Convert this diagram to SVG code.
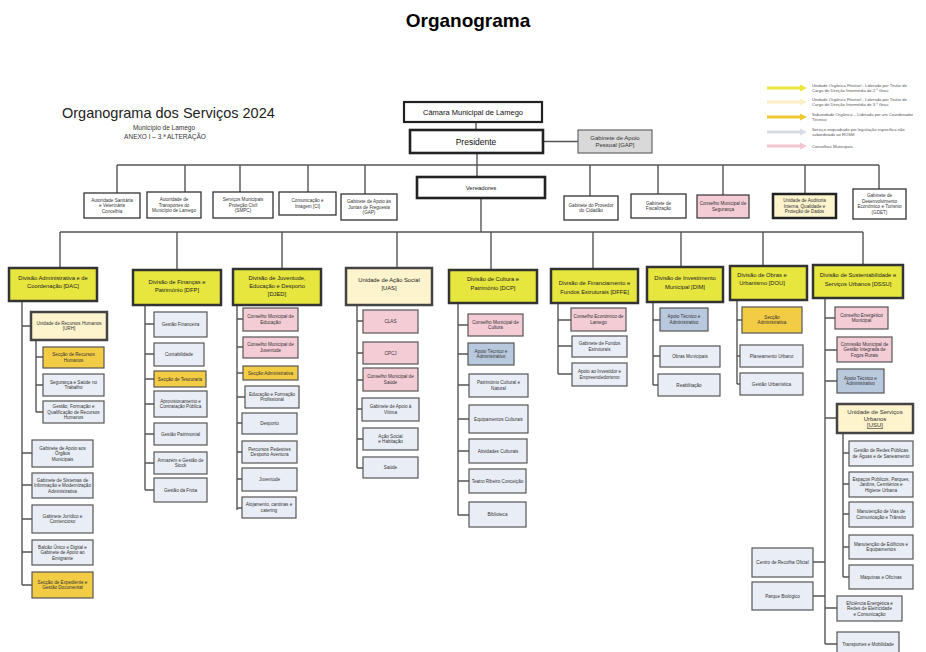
<svg xmlns="http://www.w3.org/2000/svg" xmlns:xlink="http://www.w3.org/1999/xlink" width="926" height="652" viewBox="0 0 926 652">
<style>
text{font-family:"Liberation Sans",Arial,sans-serif;fill:#333;text-anchor:middle}
.t{font-size:4.6px}
.h{font-size:5.8px;fill:#222}
.lg{font-size:4.2px;text-anchor:start;fill:#555}
.b{fill:#e9eef6;stroke:#555;stroke-width:1.2}
.pk{fill:#f4ccd6;stroke:#555;stroke-width:1.2}
.gd{fill:#f2cc44;stroke:#555;stroke-width:1.2}
.bl{fill:#b9c9dd;stroke:#555;stroke-width:1.2}
.w{fill:#fff;stroke:#333;stroke-width:1.3}
.dv{fill:#e6e63e;stroke:#333;stroke-width:2.5}
.un{fill:#fdf3cd;stroke:#444;stroke-width:2.5}
.tp{fill:#fff;stroke:#222;stroke-width:2.2}
.c path{fill:none;stroke:#555;stroke-width:1.4}
</style>
<defs>
<path id="arr" d="M0,-1.4 H33 V-3.4 L40,0 L33,3.4 V1.4 H0 Z"/>
</defs>

<text x="468" y="27" style="font-size:19px;font-weight:bold;fill:#000">Organograma</text>

<g id="heading">
<text x="62" y="118" style="font-size:14.5px;text-anchor:start;fill:#222">Organograma dos Serviços 2024</text>
<text x="164" y="130" style="font-size:6.5px">Município de Lamego</text>
<text x="165" y="139" style="font-size:6.5px">ANEXO I – 3.ª ALTERAÇÃO</text>
</g>

<g id="legend">
<use xlink:href="#arr" x="767" y="88" fill="#e8e83a"/>
<use xlink:href="#arr" x="767" y="102" fill="#fbefc6"/>
<use xlink:href="#arr" x="767" y="117" fill="#f0c830"/>
<use xlink:href="#arr" x="767" y="132" fill="#d8dde6"/>
<use xlink:href="#arr" x="767" y="146" fill="#f2c4cf"/>
<text class="lg" x="812" y="87"><tspan x="812">Unidade Orgânica Flexível - Liderada por Titular de</tspan><tspan x="812" dy="5">Cargo de Direção Intermédia de 2.º Grau</tspan></text>
<text class="lg" x="812" y="101"><tspan x="812">Unidade Orgânica Flexível - Liderada por Titular de</tspan><tspan x="812" dy="5">Cargo de Direção Intermédia de 3.º Grau</tspan></text>
<text class="lg" x="812" y="116"><tspan x="812">Subunidade Orgânica – Liderada por um Coordenador</tspan><tspan x="812" dy="5">Técnico</tspan></text>
<text class="lg" x="812" y="131"><tspan x="812">Serviço enquadrado por legislação específica não</tspan><tspan x="812" dy="5">subordinado ao ROSM</tspan></text>
<text class="lg" x="812" y="147.5">Conselhos Municipais</text>
</g>

<g id="connectors" class="c">
<path d="M476,122 V130 M543,141.5 H578 M477,153 V177 M481,198 V232"/>
<path d="M117,165 H879 M117,165 V193 M185,165 V192 M240,165 V192 M308,165 V192 M365,165 V194 M590,165 V196 M658,165 V194 M723,165 V195 M805,165 V194 M879,165 V189"/>
<path d="M60,232 H863 M60,232 V268 M177,232 V270 M282,232 V269 M397,232 V268 M491,232 V270 M593,232 V269 M681,232 V267 M763,232 V266 M863,232 V265"/>
<path d="M22,301 V585 M22,326 H31 M22,453 H32 M22,485 H32 M22,519 H32 M22,552 H32 M22,585 H32"/>
<path d="M36,340 V412 M36,357 H43 M36,385 H43 M36,412 H43"/>
<path d="M145,305 V490 M145,324 H154 M145,354 H154 M145,379 H154 M145,404 H154 M145,434 H154 M145,463 H154 M145,490 H154"/>
<path d="M237,305 V510 M237,319 H243 M237,347 H243 M237,373 H243 M237,397 H245 M237,423 H242 M237,452 H242 M237,479 H242 M237,508 H242"/>
<path d="M357,305 V468 M357,321 H363 M357,353 H363 M357,380 H363 M357,409 H362 M357,439 H363 M357,468 H363"/>
<path d="M458,303 V515 M458,325 H468 M458,354 H468 M458,385 H469 M458,419 H469 M458,451 H469 M458,481 H469 M458,515 H469"/>
<path d="M558,303 V374 M558,320 H571 M558,346 H572 M558,374 H572"/>
<path d="M653,302 V385 M653,320 H660 M653,356 H660 M653,385 H658"/>
<path d="M737,300 V384 M737,320 H742 M737,356 H740 M737,384 H740"/>
<path d="M825,298 V644 M825,318 H835 M825,350 H837 M825,381 H837 M825,418 H837 M825,608 H837 M825,644 H837 M825,562 H813 M825,596 H813"/>
<path d="M843,433 V577 M843,453 H849 M843,484 H849 M843,514 H849 M843,547 H849 M843,577 H849"/>
</g>

<g id="camara"><rect class="tp" x="404" y="102" width="138" height="20"/><text x="473" y="114.5" style="font-size:7.5px;fill:#111">Câmara Municipal de Lamego</text></g>
<g id="presidente"><rect class="tp" x="410" y="130" width="133" height="23" style="stroke-width:2.6"/><text x="476" y="144.5" style="font-size:8.5px;fill:#111">Presidente</text></g>
<g id="gap-pessoal"><rect x="578" y="130" width="74" height="23" style="fill:#d9d9d9;stroke:#666;stroke-width:1.2"/><text x="615" y="139.5" style="font-size:6px"><tspan x="615">Gabinete de Apoio</tspan><tspan x="615" dy="7">Pessoal [GAP]</tspan></text></g>
<g id="vereadores"><rect class="tp" x="417" y="177" width="128" height="21" style="stroke-width:2.6"/><text x="481" y="189.5" style="font-size:6px;fill:#222">Vereadores</text></g>

<g id="asvc"><rect class="w" x="84" y="193" width="56" height="25"/><text class="t" x="112" y="201.6"><tspan x="112">Autoridade Sanitária</tspan><tspan x="112" dy="5.5">e Veterinária</tspan><tspan x="112" dy="5.5">Concelhia</tspan></text></g>
<g id="atml"><rect class="w" x="147" y="192" width="54" height="26"/><text class="t" x="174" y="201.1"><tspan x="174">Autoridade de</tspan><tspan x="174" dy="5.5">Transportes do</tspan><tspan x="174" dy="5.5">Município de Lamego</tspan></text></g>
<g id="smpc"><rect class="w" x="213" y="192" width="60" height="26"/><text class="t" x="243" y="201.1"><tspan x="243">Serviços Municipais</tspan><tspan x="243" dy="5.5">Proteção Civil</tspan><tspan x="243" dy="5.5">(SMPC)</tspan></text></g>
<g id="ci"><rect class="w" x="279" y="192" width="57" height="23"/><text class="t" x="307.5" y="202.4"><tspan x="307.5">Comunicação e</tspan><tspan x="307.5" dy="5.5">Imagem [CI]</tspan></text></g>
<g id="gap-juntas"><rect class="w" x="341" y="194" width="56" height="26"/><text class="t" x="369" y="203.1"><tspan x="369">Gabinete de Apoio às</tspan><tspan x="369" dy="5.5">Juntas de Freguesia</tspan><tspan x="369" dy="5.5">(GAP)</tspan></text></g>
<g id="provedor"><rect class="w" x="564" y="196" width="54" height="24"/><text class="t" x="591" y="206.9"><tspan x="591">Gabinete do Provedor</tspan><tspan x="591" dy="5.5">do Cidadão</tspan></text></g>
<g id="fiscalizacao"><rect class="w" x="631" y="194" width="55" height="24"/><text class="t" x="658.5" y="204.9"><tspan x="658.5">Gabinete de</tspan><tspan x="658.5" dy="5.5">Fiscalização</tspan></text></g>
<g id="cms"><rect class="pk" x="697" y="195" width="52" height="23" style="stroke:#333"/><text class="t" x="723" y="205.4"><tspan x="723">Conselho Municipal de</tspan><tspan x="723" dy="5.5">Segurança</tspan></text></g>
<g id="auditoria"><rect class="un" x="773" y="194" width="63" height="24" style="stroke:#222"/><text class="t" x="804.5" y="202.1"><tspan x="804.5">Unidade de Auditoria</tspan><tspan x="804.5" dy="5.5">Interna, Qualidade e</tspan><tspan x="804.5" dy="5.5">Proteção de Dados</tspan></text></g>
<g id="gdet"><rect class="w" x="853" y="189" width="53" height="30"/><text class="t" x="879.5" y="197.4"><tspan x="879.5">Gabinete de</tspan><tspan x="879.5" dy="5.5">Desenvolvimento</tspan><tspan x="879.5" dy="5.5">Económico e Turismo</tspan><tspan x="879.5" dy="5.5">(GDET)</tspan></text></g>

<g id="dac"><rect class="dv" x="9" y="268" width="88" height="33"/><text class="h" x="53" y="280"><tspan x="53">Divisão Administrativa e de</tspan><tspan x="53" dy="8">Coordenação [DAC]</tspan></text></g>
<g id="dfp"><rect class="dv" x="133" y="270" width="88" height="35"/><text class="h" x="177" y="284"><tspan x="177">Divisão de Finanças e</tspan><tspan x="177" dy="8">Património [DFP]</tspan></text></g>
<g id="djed"><rect class="dv" x="233" y="269" width="88" height="36"/><text class="h" x="277" y="280"><tspan x="277">Divisão de Juventude,</tspan><tspan x="277" dy="8">Educação e Desporto</tspan><tspan x="277" dy="8">[DJED]</tspan></text></g>
<g id="uas"><rect class="un" x="346" y="268" width="86" height="37"/><text class="h" x="389" y="282"><tspan x="389">Unidade de Ação Social</tspan><tspan x="389" dy="8">[UAS]</tspan></text></g>
<g id="dcp"><rect class="dv" x="449" y="270" width="88" height="33"/><text class="h" x="493" y="281"><tspan x="493">Divisão de Cultura e</tspan><tspan x="493" dy="8.5">Património [DCP]</tspan></text></g>
<g id="dffe"><rect class="dv" x="551" y="269" width="87" height="34"/><text class="h" x="594.5" y="285"><tspan x="594.5">Divisão de Financiamento e</tspan><tspan x="594.5" dy="8.5">Fundos Estruturais   [DFFE]</tspan></text></g>
<g id="dim"><rect class="dv" x="647" y="267" width="76" height="35"/><text class="h" x="685" y="280"><tspan x="685">Divisão de Investimento</tspan><tspan x="685" dy="8.5">Municipal [DIM]</tspan></text></g>
<g id="dou"><rect class="dv" x="730" y="266" width="77" height="34"/><text class="h" x="762" y="277"><tspan x="762">Divisão de Obras e</tspan><tspan x="762" dy="8">Urbanismo [DOU]</tspan></text></g>
<g id="dssu"><rect class="dv" x="813" y="265" width="90" height="33"/><text class="h" x="858" y="277"><tspan x="858">Divisão de Sustentabilidade e</tspan><tspan x="858" dy="8.5">Serviços Urbanos [DSSU]</tspan></text></g>

<g id="urh"><rect class="un" x="31" y="312" width="76" height="28"/><text class="t" x="69" y="324.9"><tspan x="69">Unidade de Recursos Humanos</tspan><tspan x="69" dy="5.5">[URH]</tspan></text></g>
<g id="srh"><rect class="gd" x="43" y="347" width="61" height="21"/><text class="t" x="73.5" y="356.4"><tspan x="73.5">Secção de Recursos</tspan><tspan x="73.5" dy="5.5">Humanos</tspan></text></g>
<g id="sst"><rect class="b" x="43" y="374" width="61" height="22"/><text class="t" x="73.5" y="383.9"><tspan x="73.5">Segurança e Saúde no</tspan><tspan x="73.5" dy="5.5">Trabalho</tspan></text></g>
<g id="gfq"><rect class="b" x="43" y="401" width="61" height="22"/><text class="t" x="73.5" y="408.1"><tspan x="73.5">Gestão, Formação e</tspan><tspan x="73.5" dy="5.5">Qualificação de Recursos</tspan><tspan x="73.5" dy="5.5">Humanos</tspan></text></g>
<g id="gaom"><rect class="b" x="32" y="440" width="61" height="27"/><text class="t" x="62.5" y="449.6"><tspan x="62.5">Gabinete de Apoio aos</tspan><tspan x="62.5" dy="5.5">Órgãos</tspan><tspan x="62.5" dy="5.5">Municipais</tspan></text></g>
<g id="gsima"><rect class="b" x="32" y="473" width="61" height="25"/><text class="t" x="62.5" y="481.6"><tspan x="62.5">Gabinete de Sistemas de</tspan><tspan x="62.5" dy="5.5">Informação e Modernização</tspan><tspan x="62.5" dy="5.5">Administrativa</tspan></text></g>
<g id="gjc"><rect class="b" x="32" y="505" width="61" height="28"/><text class="t" x="62.5" y="517.9"><tspan x="62.5">Gabinete Jurídico e</tspan><tspan x="62.5" dy="5.5">Contencioso</tspan></text></g>
<g id="buge"><rect class="b" x="32" y="540" width="61" height="25"/><text class="t" x="62.5" y="548.6"><tspan x="62.5">Balcão Único e Digital e</tspan><tspan x="62.5" dy="5.5">Gabinete de Apoio ao</tspan><tspan x="62.5" dy="5.5">Emigrante</tspan></text></g>
<g id="segd"><rect class="gd" x="32" y="572" width="61" height="26"/><text class="t" x="62.5" y="583.9"><tspan x="62.5">Secção de Expediente  e</tspan><tspan x="62.5" dy="5.5">Gestão Documental</tspan></text></g>

<g id="gf"><rect class="b" x="154" y="312" width="53" height="25"/><text class="t" x="180.5" y="326.1">Gestão Financeira</text></g>
<g id="cont"><rect class="b" x="154" y="343" width="50" height="23"/><text class="t" x="179" y="356.1">Contabilidade</text></g>
<g id="stes"><rect class="gd" x="154" y="371" width="52" height="16"/><text class="t" x="180" y="380.6">Secção de Tesouraria</text></g>
<g id="acp"><rect class="b" x="154" y="391" width="53" height="26"/><text class="t" x="180.5" y="402.9"><tspan x="180.5">Aprovisionamento e</tspan><tspan x="180.5" dy="5.5">Contratação Pública</tspan></text></g>
<g id="gp"><rect class="b" x="154" y="423" width="53" height="22"/><text class="t" x="180.5" y="435.6">Gestão Patrimonial</text></g>
<g id="ags"><rect class="b" x="154" y="452" width="53" height="22"/><text class="t" x="180.5" y="461.9"><tspan x="180.5">Armazém e Gestão de</tspan><tspan x="180.5" dy="5.5">Stock</tspan></text></g>
<g id="gfr"><rect class="b" x="154" y="478" width="53" height="24"/><text class="t" x="180.5" y="491.6">Gestão da Frota</text></g>

<g id="cme"><rect class="pk" x="243" y="308" width="55" height="23"/><text class="t" x="270.5" y="318.4"><tspan x="270.5">Conselho Municipal de</tspan><tspan x="270.5" dy="5.5">Educação</tspan></text></g>
<g id="cmj"><rect class="pk" x="243" y="337" width="55" height="21"/><text class="t" x="270.5" y="346.4"><tspan x="270.5">Conselho Municipal de</tspan><tspan x="270.5" dy="5.5">Juventude</tspan></text></g>
<g id="sadj"><rect class="gd" x="243" y="366" width="55" height="14"/><text class="t" x="270.5" y="374.6">Secção Administrativa</text></g>
<g id="efp"><rect class="b" x="245" y="386" width="54" height="22"/><text class="t" x="272" y="395.9"><tspan x="272">Educação e Formação</tspan><tspan x="272" dy="5.5">Profissional</tspan></text></g>
<g id="desp"><rect class="b" x="242" y="413" width="55" height="21"/><text class="t" x="269.5" y="425.1">Desporto</text></g>
<g id="ppda"><rect class="b" x="242" y="441" width="55" height="22"/><text class="t" x="269.5" y="450.9"><tspan x="269.5">Percursos Pedestres</tspan><tspan x="269.5" dy="5.5">Desporto Aventura</tspan></text></g>
<g id="juv"><rect class="b" x="242" y="468" width="55" height="23"/><text class="t" x="269.5" y="481.1">Juventude</text></g>
<g id="alc"><rect class="b" x="242" y="497" width="54" height="21"/><text class="t" x="269" y="506.4"><tspan x="269">Alojamento, cantinas e</tspan><tspan x="269" dy="5.5">catering</tspan></text></g>

<g id="clas"><rect class="pk" x="363" y="310" width="55" height="23"/><text class="t" x="390.5" y="323.1">CLAS</text></g>
<g id="cpcj"><rect class="pk" x="363" y="342" width="55" height="22"/><text class="t" x="390.5" y="354.6">CPCJ</text></g>
<g id="cmsa"><rect class="pk" x="363" y="368" width="55" height="23"/><text class="t" x="390.5" y="378.4"><tspan x="390.5">Conselho Municipal de</tspan><tspan x="390.5" dy="5.5">Saúde</tspan></text></g>
<g id="gav"><rect class="b" x="362" y="398" width="57" height="23"/><text class="t" x="390.5" y="408.4"><tspan x="390.5">Gabinete de Apoio à</tspan><tspan x="390.5" dy="5.5">Vítima</tspan></text></g>
<g id="ash"><rect class="b" x="363" y="428" width="55" height="22"/><text class="t" x="390.5" y="437.9"><tspan x="390.5">Ação Social</tspan><tspan x="390.5" dy="5.5">e Habitação</tspan></text></g>
<g id="saude"><rect class="b" x="363" y="457" width="55" height="21"/><text class="t" x="390.5" y="469.1">Saúde</text></g>

<g id="cmc"><rect class="pk" x="468" y="314" width="55" height="22"/><text class="t" x="495.5" y="323.9"><tspan x="495.5">Conselho Municipal de</tspan><tspan x="495.5" dy="5.5">Cultura</tspan></text></g>
<g id="ata-dcp"><rect class="bl" x="468" y="343" width="46" height="22"/><text class="t" x="491" y="352.9"><tspan x="491">Apoio Técnico e</tspan><tspan x="491" dy="5.5">Administrativo</tspan></text></g>
<g id="pcn"><rect class="b" x="469" y="374" width="59" height="23"/><text class="t" x="498.5" y="384.4"><tspan x="498.5">Património Cultural e</tspan><tspan x="498.5" dy="5.5">Natural</tspan></text></g>
<g id="eqc"><rect class="b" x="469" y="405" width="59" height="28"/><text class="t" x="498.5" y="420.6">Equipamentos Culturais</text></g>
<g id="atc"><rect class="b" x="469" y="439" width="58" height="24"/><text class="t" x="498" y="452.6">Atividades Culturais</text></g>
<g id="trc"><rect class="b" x="469" y="469" width="57" height="24"/><text class="t" x="497.5" y="482.6">Teatro Ribeiro Conceição</text></g>
<g id="bib"><rect class="b" x="469" y="502" width="57" height="25"/><text class="t" x="497.5" y="516.1">Biblioteca</text></g>

<g id="cel"><rect class="pk" x="571" y="308" width="55" height="23"/><text class="t" x="598.5" y="318.4"><tspan x="598.5">Conselho Económico de</tspan><tspan x="598.5" dy="5.5">Lamego</tspan></text></g>
<g id="gfe"><rect class="b" x="572" y="336" width="55" height="21"/><text class="t" x="599.5" y="345.4"><tspan x="599.5">Gabinete de Fundos</tspan><tspan x="599.5" dy="5.5">Estruturais</tspan></text></g>
<g id="aie"><rect class="b" x="572" y="363" width="55" height="23"/><text class="t" x="599.5" y="373.4"><tspan x="599.5">Apoio ao Investidor e</tspan><tspan x="599.5" dy="5.5">Empreendedorismo</tspan></text></g>

<g id="ata-dim"><rect class="bl" x="660" y="308" width="48" height="23"/><text class="t" x="684" y="318.4"><tspan x="684">Apoio Técnico e</tspan><tspan x="684" dy="5.5">Administrativo</tspan></text></g>
<g id="obm"><rect class="b" x="660" y="346" width="60" height="21"/><text class="t" x="690" y="358.1">Obras Municipais</text></g>
<g id="reab"><rect class="b" x="658" y="374" width="62" height="22"/><text class="t" x="689" y="386.6">Reabilitação</text></g>

<g id="sadou"><rect class="gd" x="742" y="307" width="60" height="26"/><text class="t" x="772" y="318.9"><tspan x="772">Secção</tspan><tspan x="772" dy="5.5">Administrativa</tspan></text></g>
<g id="plu"><rect class="b" x="740" y="345" width="63" height="22"/><text class="t" x="771.5" y="357.6">Planeamento Urbano</text></g>
<g id="gur"><rect class="b" x="740" y="373" width="63" height="22"/><text class="t" x="771.5" y="385.6">Gestão Urbanística</text></g>

<g id="cem"><rect class="pk" x="835" y="307" width="53" height="22"/><text class="t" x="861.5" y="316.9"><tspan x="861.5">Conselho Energético</tspan><tspan x="861.5" dy="5.5">Municipal</tspan></text></g>
<g id="cmgifr"><rect class="pk" x="837" y="337" width="55" height="25"/><text class="t" x="864.5" y="345.6"><tspan x="864.5">Comissão Municipal de</tspan><tspan x="864.5" dy="5.5">Gestão Integrada de</tspan><tspan x="864.5" dy="5.5">Fogos Rurais</tspan></text></g>
<g id="ata-dssu"><rect class="bl" x="837" y="369" width="47" height="24"/><text class="t" x="860.5" y="379.9"><tspan x="860.5">Apoio Técnico e</tspan><tspan x="860.5" dy="5.5">Administrativo</tspan></text></g>
<g id="usu"><rect class="un" x="837" y="404" width="76" height="29"/><text x="875" y="414" style="font-size:6px"><tspan x="875">Unidade de Serviços</tspan><tspan x="875" dy="6.5">Urbanos</tspan><tspan x="875" dy="6.5" text-decoration="underline">[USU]</tspan></text></g>
<g id="grpas"><rect class="b" x="849" y="441" width="64" height="25"/><text class="t" x="881" y="452.4"><tspan x="881">Gestão de Redes Públicas</tspan><tspan x="881" dy="5.5">de Águas e de Saneamento</tspan></text></g>
<g id="epj"><rect class="b" x="849" y="472" width="64" height="25"/><text class="t" x="881" y="480.6"><tspan x="881">Espaços Públicos, Parques,</tspan><tspan x="881" dy="5.5">Jardins, Cemitérios e</tspan><tspan x="881" dy="5.5">Higiene Urbana</tspan></text></g>
<g id="mvct"><rect class="b" x="849" y="502" width="64" height="25"/><text class="t" x="881" y="513.4"><tspan x="881">Manutenção de Vias de</tspan><tspan x="881" dy="5.5">Comunicação e Trânsito</tspan></text></g>
<g id="mee"><rect class="b" x="849" y="535" width="64" height="24"/><text class="t" x="881" y="545.9"><tspan x="881">Manutenção de Edifícios e</tspan><tspan x="881" dy="5.5">Equipamentos</tspan></text></g>
<g id="mof"><rect class="b" x="849" y="565" width="64" height="24"/><text class="t" x="881" y="578.6">Máquinas e Oficinas</text></g>
<g id="eerec"><rect class="b" x="837" y="596" width="65" height="25"/><text class="t" x="869.5" y="604.6"><tspan x="869.5">Eficiência Energética e</tspan><tspan x="869.5" dy="5.5">Redes de Eletricidade</tspan><tspan x="869.5" dy="5.5">e Comunicação</tspan></text></g>
<g id="tmob"><rect class="b" x="837" y="632" width="62" height="24"/><text class="t" x="868" y="646">Transportes e Mobilidade</text></g>
<g id="cro"><rect class="b" x="752" y="548" width="61" height="29"/><text class="t" x="782.5" y="564.1">Centro de Recolha Oficial</text></g>
<g id="pbio"><rect class="b" x="752" y="582" width="61" height="28"/><text class="t" x="782.5" y="597.6">Parque Biológico</text></g>
</svg>
